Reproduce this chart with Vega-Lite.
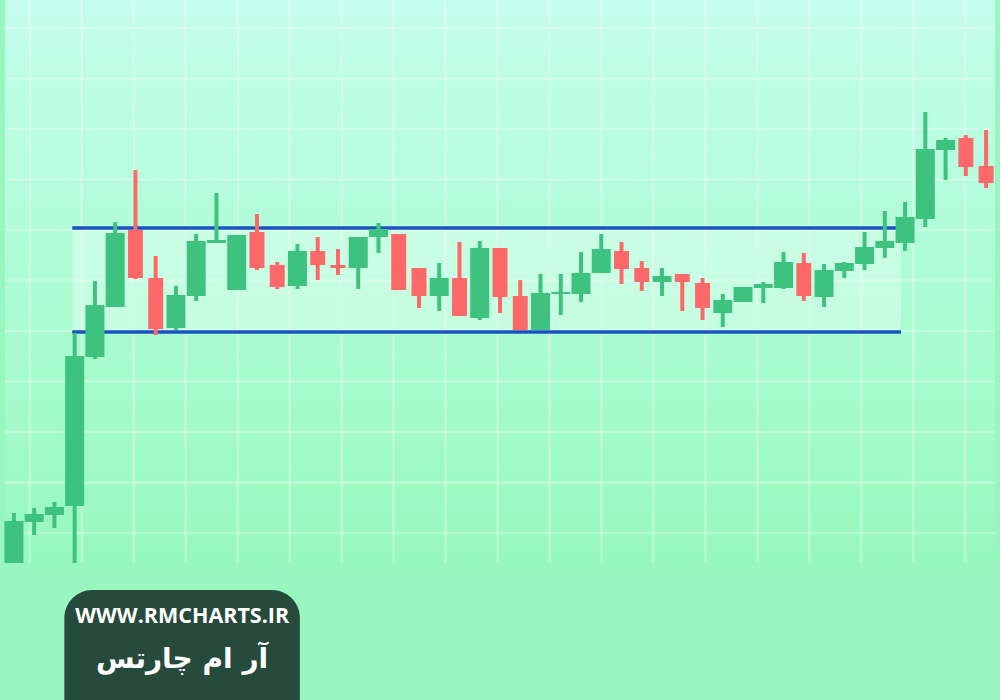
{
  "$schema": "https://vega.github.io/schema/vega-lite/v6.json",
  "width": 1000,
  "height": 700,
  "padding": 0,
  "autosize": {"type": "none"},
  "config": {"view": {"stroke": null, "fill": "#98f6bf"}},
  "datasets": {
    "candles": [
      {"i": 0, "open": 137, "close": 179, "high": 187, "low": 137},
      {"i": 1, "open": 178, "close": 186, "high": 192, "low": 165},
      {"i": 2, "open": 185, "close": 193, "high": 198, "low": 172},
      {"i": 3, "open": 194, "close": 344, "high": 367, "low": 137},
      {"i": 4, "open": 343, "close": 395, "high": 419, "low": 341},
      {"i": 5, "open": 393, "close": 467, "high": 478, "low": 393},
      {"i": 6, "open": 470, "close": 422, "high": 530, "low": 421},
      {"i": 7, "open": 422, "close": 371, "high": 444, "low": 365},
      {"i": 8, "open": 372, "close": 405, "high": 414, "low": 370},
      {"i": 9, "open": 404, "close": 459, "high": 466, "low": 399},
      {"i": 10, "open": 457, "close": 460, "high": 507, "low": 457},
      {"i": 11, "open": 410, "close": 465, "high": 465, "low": 410},
      {"i": 12, "open": 468, "close": 432, "high": 486, "low": 430},
      {"i": 13, "open": 435, "close": 413, "high": 438, "low": 411},
      {"i": 14, "open": 414, "close": 449, "high": 456, "low": 411},
      {"i": 15, "open": 449, "close": 435, "high": 463, "low": 420},
      {"i": 16, "open": 435, "close": 432, "high": 451, "low": 425},
      {"i": 17, "open": 432, "close": 463, "high": 463, "low": 411},
      {"i": 18, "open": 463, "close": 471, "high": 477, "low": 447},
      {"i": 19, "open": 466, "close": 410, "high": 466, "low": 410},
      {"i": 20, "open": 432, "close": 404, "high": 432, "low": 392},
      {"i": 21, "open": 404, "close": 422, "high": 437, "low": 389},
      {"i": 22, "open": 422, "close": 384, "high": 458, "low": 384},
      {"i": 23, "open": 382, "close": 452, "high": 459, "low": 380},
      {"i": 24, "open": 452, "close": 403, "high": 452, "low": 387},
      {"i": 25, "open": 404, "close": 370, "high": 420, "low": 370},
      {"i": 26, "open": 370, "close": 407, "high": 426, "low": 370},
      {"i": 27, "open": 406, "close": 408, "high": 426, "low": 385},
      {"i": 28, "open": 406, "close": 427, "high": 448, "low": 398},
      {"i": 29, "open": 427, "close": 451, "high": 466, "low": 427},
      {"i": 30, "open": 449, "close": 431, "high": 458, "low": 416},
      {"i": 31, "open": 432, "close": 418, "high": 439, "low": 409},
      {"i": 32, "open": 418, "close": 424, "high": 432, "low": 404},
      {"i": 33, "open": 426, "close": 418, "high": 426, "low": 389},
      {"i": 34, "open": 417, "close": 392, "high": 422, "low": 380},
      {"i": 35, "open": 387, "close": 400, "high": 406, "low": 373},
      {"i": 36, "open": 398, "close": 413, "high": 413, "low": 398},
      {"i": 37, "open": 412, "close": 416, "high": 418, "low": 397},
      {"i": 38, "open": 412, "close": 438, "high": 448, "low": 411},
      {"i": 39, "open": 437, "close": 404, "high": 447, "low": 399},
      {"i": 40, "open": 403, "close": 430, "high": 436, "low": 393},
      {"i": 41, "open": 429, "close": 437, "high": 438, "low": 422},
      {"i": 42, "open": 436, "close": 453, "high": 468, "low": 430},
      {"i": 43, "open": 452, "close": 459, "high": 489, "low": 442},
      {"i": 44, "open": 457, "close": 483, "high": 498, "low": 449},
      {"i": 45, "open": 481, "close": 551, "high": 588, "low": 473},
      {"i": 46, "open": 550, "close": 560, "high": 562, "low": 520},
      {"i": 47, "open": 562, "close": 533, "high": 565, "low": 524},
      {"i": 48, "open": 534, "close": 517, "high": 570, "low": 512}
    ],
    "gridX": [
      {"gx": 0.78}, {"gx": 3.35}, {"gx": 5.91}, {"gx": 8.48}, {"gx": 11.05},
      {"gx": 13.61}, {"gx": 16.18}, {"gx": 18.74}, {"gx": 21.31}, {"gx": 23.88},
      {"gx": 26.44}, {"gx": 29.01}, {"gx": 31.57}, {"gx": 34.14}, {"gx": 36.71},
      {"gx": 39.27}, {"gx": 41.84}, {"gx": 44.40}, {"gx": 46.97}
    ],
    "gridY": [
      {"gy": 672}, {"gy": 621.5}, {"gy": 571}, {"gy": 520.5}, {"gy": 470},
      {"gy": 419.5}, {"gy": 369}, {"gy": 318.5}, {"gy": 268}, {"gy": 217.5}, {"gy": 167}
    ],
    "range": [
      {"start": 2.88, "end": 43.8, "support": 368, "resistance": 472}
    ],
    "brand": [
      {"site": "WWW.RMCHARTS.IR", "name": "آر ام چارتس"}
    ]
  },
  "layer": [
    {
      "data": {"values": [{}]},
      "mark": {
        "type": "rect",
        "fill": {
          "gradient": "linear", "x1": 0, "y1": 0, "x2": 0, "y2": 1,
          "stops": [
            {"offset": 0, "color": "#c4fdec"},
            {"offset": 0.5, "color": "#adfcd4"},
            {"offset": 1, "color": "#97f8bc"}
          ]
        }
      },
      "encoding": {
        "x": {"datum": -0.44, "type": "quantitative", "scale": {"domain": [-0.44, 48.44], "nice": false, "zero": false}, "axis": null},
        "x2": {"datum": 48.44},
        "y": {"datum": 137, "type": "quantitative", "scale": {"domain": [0, 700], "nice": false, "zero": false}, "axis": null},
        "y2": {"datum": 700}
      }
    },
    {
      "data": {"name": "gridX"},
      "mark": {"type": "rule", "color": "#ffffff", "opacity": 0.3, "strokeWidth": 2.5},
      "encoding": {
        "x": {"field": "gx", "type": "quantitative"},
        "y": {"datum": 137, "type": "quantitative"},
        "y2": {"datum": 700}
      }
    },
    {
      "data": {"name": "gridY"},
      "mark": {"type": "rule", "color": "#ffffff", "opacity": 0.3, "strokeWidth": 2.5},
      "encoding": {
        "y": {"field": "gy", "type": "quantitative"},
        "x": {"datum": -0.44, "type": "quantitative"},
        "x2": {"datum": 48.44}
      }
    },
    {
      "data": {"name": "range"},
      "mark": {"type": "rect", "color": "#e2fff2", "opacity": 0.5},
      "encoding": {
        "x": {"field": "start", "type": "quantitative"},
        "x2": {"field": "end"},
        "y": {"field": "support", "type": "quantitative"},
        "y2": {"field": "resistance"}
      }
    },
    {
      "data": {"name": "range"},
      "mark": {"type": "rule", "color": "#1b52c2", "strokeWidth": 3.5},
      "encoding": {
        "x": {"field": "start", "type": "quantitative"},
        "x2": {"field": "end"},
        "y": {"field": "resistance", "type": "quantitative"}
      }
    },
    {
      "data": {"name": "range"},
      "mark": {"type": "rule", "color": "#1b52c2", "strokeWidth": 3.5},
      "encoding": {
        "x": {"field": "start", "type": "quantitative"},
        "x2": {"field": "end"},
        "y": {"field": "support", "type": "quantitative"}
      }
    },
    {
      "data": {"name": "candles"},
      "mark": {"type": "rule", "strokeWidth": 4},
      "encoding": {
        "x": {"field": "i", "type": "quantitative"},
        "y": {"field": "low", "type": "quantitative"},
        "y2": {"field": "high"},
        "color": {"condition": {"test": "datum.close >= datum.open", "value": "#3ec27f"}, "value": "#fd6868"}
      }
    },
    {
      "data": {"name": "candles"},
      "mark": {"type": "bar", "orient": "vertical"},
      "encoding": {
        "x": {"field": "i", "type": "quantitative"},
        "y": {"field": "open", "type": "quantitative"},
        "y2": {"field": "close"},
        "size": {"condition": {"test": "datum.close >= datum.open", "value": 19}, "value": 15},
        "color": {"condition": {"test": "datum.close >= datum.open", "value": "#3ec27f"}, "value": "#fd6868"}
      }
    },
    {
      "data": {"name": "brand"},
      "mark": {"type": "rect", "color": "#264a3b", "cornerRadiusTopLeft": 28, "cornerRadiusTopRight": 28},
      "encoding": {
        "x": {"datum": 2.49, "type": "quantitative"},
        "x2": {"datum": 14.12},
        "y": {"datum": 110, "type": "quantitative"},
        "y2": {"datum": 0}
      }
    },
    {
      "data": {"name": "brand"},
      "mark": {"type": "text", "color": "#ffffff", "font": "Open Sans", "fontWeight": "bold", "fontSize": 21.5, "align": "center", "baseline": "middle"},
      "encoding": {
        "x": {"datum": 8.31, "type": "quantitative"},
        "y": {"datum": 83, "type": "quantitative"},
        "text": {"field": "site"}
      }
    },
    {
      "data": {"name": "brand"},
      "mark": {"type": "text", "color": "#ffffff", "font": "DejaVu Sans", "fontWeight": "bold", "fontSize": 28, "align": "center", "baseline": "middle"},
      "encoding": {
        "x": {"datum": 8.3, "type": "quantitative"},
        "y": {"datum": 40, "type": "quantitative"},
        "text": {"field": "name"}
      }
    }
  ]
}
